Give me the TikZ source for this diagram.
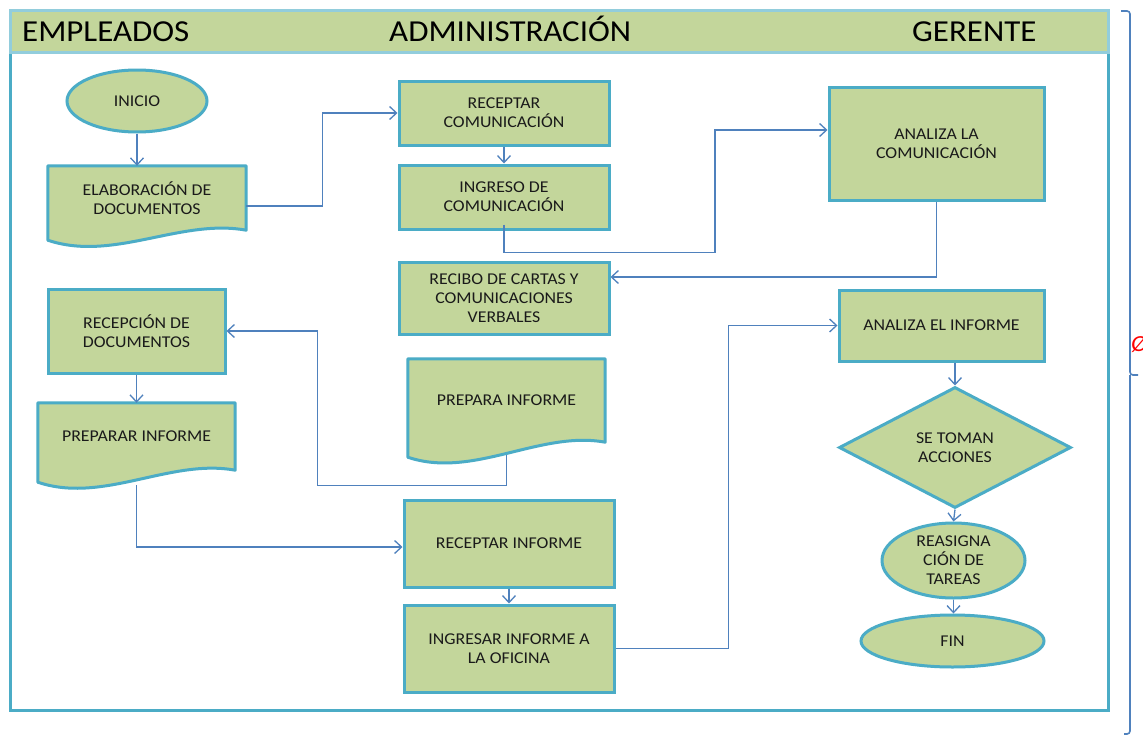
\documentclass[tikz,border=0pt]{standalone}
\usepackage{fontspec}
\setmainfont{Carlito}[FakeStretch=1.08]
\usetikzlibrary{arrows.meta,shapes.geometric,calc}
\definecolor{boxfill}{HTML}{C3D69B}
\definecolor{boxline}{HTML}{4BACC6}
\definecolor{headline}{HTML}{92CDDC}
\definecolor{conncol}{HTML}{4F81BD}
\definecolor{txtcol}{HTML}{1A1A1A}
\pgfdeclarelayer{bottom}
\pgfdeclarelayer{background}
\pgfsetlayers{bottom,background,main}
\newcommand\docshape[2]{%
  \draw[docline] (#1.north west) -- (#1.north east) -- (#1.south east)
    .. controls ($(#1.south east)!0.33!(#1.south west)+(0,-12)$) and ($(#1.south east)!0.67!(#1.south west)+(0,#2+22)$) .. ($(#1.south west)+(0,#2)$) -- cycle;}
\begin{document}
\begin{tikzpicture}[x=1pt,y=-1pt,
  btext/.style={font=\fontsize{16.5}{19}\selectfont, text=txtcol, align=center},
  box/.style={btext, rectangle, draw=boxline, fill=boxfill, line width=3pt, inner sep=0pt},
  docbox/.style={btext, rectangle, draw=none, inner sep=0pt},
  docline/.style={draw=boxline, fill=boxfill, line width=3pt, line join=round},
  ellbox/.style={ellipse, draw=boxline, fill=boxfill, line width=3pt, inner sep=0pt},
  diabox/.style={diamond, draw=boxline, fill=boxfill, line width=3pt, inner sep=0pt},
  conn/.style={draw=conncol, line width=1.3pt, -{Straight Barb[length=7pt,width=13pt,line width=1.3pt]}},
  htext/.style={font=\fontsize{30.5}{32}\selectfont, anchor=base west, inner sep=0pt, text=black},
  brace/.style={draw=conncol, line width=1.6pt, rounded corners=3pt}
]
\useasboundingbox (0,0) rectangle (1143,736);
\begin{pgfonlayer}{bottom}
\fill[white] (0,0) rectangle (1143,736);
\end{pgfonlayer}

% frame and header
\draw[boxline, line width=3pt] (10,52) rectangle (1108,710);
\draw[headline, fill=boxfill, line width=3pt] (10,10) rectangle (1108,52);
\node[htext] (hemp) at (22,41.5) {EMPLEADOS};
\node[htext] (hadm) at (389,41.5) {ADMINISTRACIÓN};
\node[htext] (hger) at (912,41.5) {GERENTE};

% brace and symbol
\draw[brace] (1121,11) -- (1130,11) -- (1130,375) -- (1138,375);
\draw[brace] (1130,375) -- (1130,734) -- (1124,734);
\node[anchor=base west, inner sep=0pt, text=red, font=\fontsize{23}{23}\selectfont\itshape] (sym) at (1131,351) {Ø};

% nodes
\node[ellbox, minimum width=140pt, minimum height=62pt, label={[btext]center:INICIO}] (inicio) at (137,101) {};
\node[docbox, minimum width=198pt, minimum height=64pt] (elab) at (147,198) {ELABORACIÓN DE\\DOCUMENTOS};
\node[box, minimum width=210pt, minimum height=64pt] (rc) at (504,113) {RECEPTAR\\COMUNICACIÓN};
\node[box, minimum width=210pt, minimum height=64pt] (ic) at (504,197) {INGRESO DE\\COMUNICACIÓN};
\node[box, minimum width=215pt, minimum height=113pt] (alc) at (936.5,143.5) {ANALIZA LA\\COMUNICACIÓN};
\node[box, minimum width=210pt, minimum height=72pt] (rcv) at (504,298) {RECIBO DE CARTAS Y\\COMUNICACIONES\\VERBALES};
\node[box, minimum width=177pt, minimum height=84pt] (rd) at (136.5,331) {RECEPCIÓN DE\\DOCUMENTOS};
\node[docbox, minimum width=197pt, minimum height=83pt] (pi) at (506.5,400.5) {PREPARA INFORME};
\node[docbox, minimum width=197pt, minimum height=67pt] (pri) at (136.5,436.5) {PREPARAR INFORME};
\node[box, minimum width=205pt, minimum height=71pt] (aei) at (941.5,325.5) {ANALIZA EL INFORME};
\node[diabox, minimum width=232pt, minimum height=121pt, label={[btext]center:SE TOMAN\\ACCIONES}] (dia) at (955,447.5) {};
\node[ellbox, minimum width=143pt, minimum height=75pt, label={[btext]center:REASIGNA\\CIÓN DE\\TAREAS}] (reas) at (953.5,560.5) {};
\node[ellbox, minimum width=183pt, minimum height=52pt, label={[btext]center:FIN}] (fin) at (952.5,641) {};
\node[box, minimum width=210pt, minimum height=87pt] (rinf) at (509,543.5) {RECEPTAR INFORME};
\node[box, minimum width=210pt, minimum height=87pt] (ingr) at (509,648.5) {INGRESAR INFORME A\\LA OFICINA};

\begin{pgfonlayer}{background}
\docshape{elab}{10}
\docshape{pi}{15}
\docshape{pri}{12}
\end{pgfonlayer}

% connectors
\draw[conn] (inicio.south) -- (inicio.south |- elab.north);
\draw[conn] ([yshift=-8pt]elab.east) -- ++(76,0) |- (rc.west);
\draw[conn] (rc.south) -- (ic.north);
\draw[conn] ([yshift=6pt]ic.south) -- ++(0,28) -- ++(211,0) |- ([yshift=13.5pt]alc.west);
\draw[conn] (alc.south) |- ([yshift=21pt]rcv.east);
\draw[conn] ([yshift=-13pt]pi.south) -- ++(0,30) -- ++(-189,0) |- (rd.east);
\draw[conn] (rd.south) -- (pri.north);
\draw[conn] ([yshift=-15pt]pri.south) |- ([yshift=-3.5pt]rinf.west);
\draw[conn] (rinf.south) -- (ingr.north);
\draw[conn] (ingr.east) -- ++(113,0) |- (aei.west);
\draw[conn] (dia.north |- aei.south) -- (dia.north);
\draw[conn] (dia.south) -- (reas.north);
\draw[conn] (reas.south) -- (reas.south |- fin.north);
\end{tikzpicture}
\end{document}
